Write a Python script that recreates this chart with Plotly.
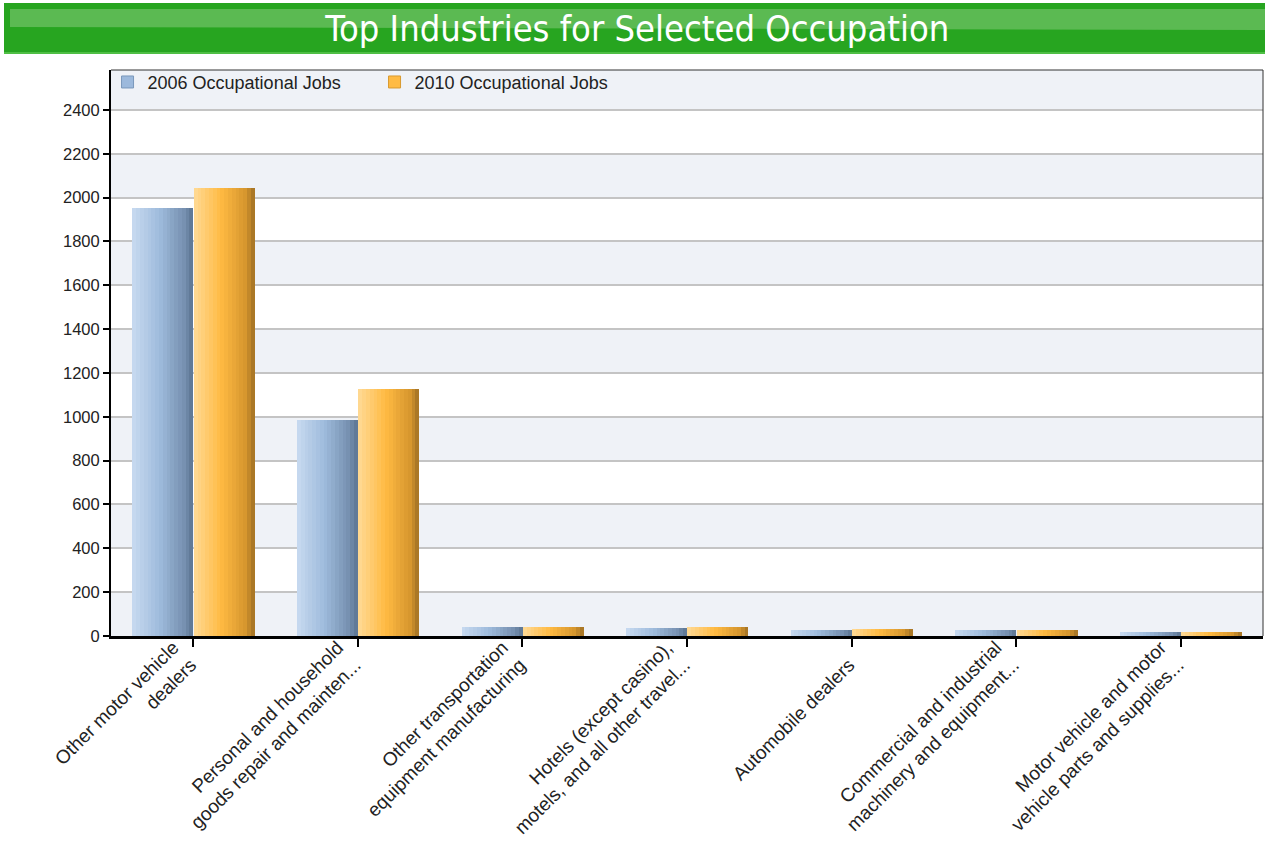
import plotly.graph_objects as go

categories = [
    "Other motor vehicle<br>dealers",
    "Personal and household<br>goods repair and mainten...",
    "Other transportation<br>equipment manufacturing",
    "Hotels (except casino),<br>motels, and all other travel...",
    "Automobile dealers",
    "Commercial and industrial<br>machinery and equipment...",
    "Motor vehicle and motor<br>vehicle parts and supplies...",
]
jobs_2006 = [1953, 985, 41, 36, 28, 27, 20]
jobs_2010 = [2044, 1127, 41, 40, 32, 27, 18]
series_names = ["2006 Occupational Jobs", "2010 Occupational Jobs"]
y_ticks = list(range(0, 2401, 200))
Y_MAX = 2582

xs = list(range(len(categories)))
# anchor every label by its last line: pad single-line labels with a blank first line
tick_text = [c if "<br>" in c else "\u00a0<br>" + c for c in categories]

fig = go.Figure()

def lerp(c1, c2, t):
    return "rgb(%d,%d,%d)" % tuple(round(a + (b - a) * t) for a, b in zip(c1, c2))

def grad(stops, t):
    for (p1, c1), (p2, c2) in zip(stops, stops[1:]):
        if p1 <= t <= p2:
            return lerp(c1, c2, (t - p1) / (p2 - p1))
    return lerp(stops[-1][1], stops[-1][1], 0)

blue_stops = [(0, (200, 218, 240)), (0.45, (158, 187, 220)), (0.85, (118, 144, 176)), (1.0, (92, 116, 146))]
orange_stops = [(0, (255, 218, 150)), (0.45, (255, 186, 66)), (0.85, (214, 150, 46)), (1.0, (160, 112, 36))]

bar_w = 0.37
n_slices = 16
for s, (vals, stops) in enumerate([(jobs_2006, blue_stops), (jobs_2010, orange_stops)]):
    base_off = -bar_w if s == 0 else 0.003
    sw = bar_w / n_slices
    for i in range(n_slices):
        t = (i + 0.5) / n_slices
        fig.add_trace(go.Bar(
            x=xs, y=vals, width=sw * 1.02, offset=base_off + i * sw,
            marker=dict(color=grad(stops, t), line=dict(width=0)),
            showlegend=False, hoverinfo="skip",
        ))

# legend entries
for name, col, lc in [(series_names[0], "#9cb9dc", "#7a98bb"), (series_names[1], "#ffbb44", "#d89a30")]:
    fig.add_trace(go.Bar(x=[None], y=[None], name=name,
                         marker=dict(color=col, line=dict(color=lc, width=1))))

PT, PB, PL, PW = 70, 636, 111, 1152
PH = PB - PT
def py(p):
    return (PB - p) / PH
def px(p):
    return (p - PL) / PW

shapes = []
for i, v in enumerate(y_ticks):
    if i % 2 == 0:
        shapes.append(dict(type="rect", xref="paper", yref="y", x0=0, x1=1, y0=v, y1=min(v + 200, Y_MAX),
                           fillcolor="#eff2f7", line=dict(width=0), layer="below"))
# title banner
shapes.append(dict(type="rect", xref="paper", yref="paper", x0=px(4), x1=px(1265), y0=py(53), y1=py(3),
                   fillcolor="#27a520", line=dict(width=0), layer="below"))
shapes.append(dict(type="rect", xref="paper", yref="paper", x0=px(4), x1=px(1265), y0=py(54), y1=py(52),
                   fillcolor="#4fbf45", line=dict(width=0), layer="below"))
shapes.append(dict(type="path", xref="paper", yref="paper",
                   path="M %f %f L %f %f L %f %f L %f %f Z" % (px(10), py(9), px(1265), py(9), px(1265), py(30), px(10), py(27)),
                   fillcolor="#5bba52", line=dict(width=0), layer="below"))
# plot frame top/right
shapes.append(dict(type="line", xref="paper", yref="paper", x0=0, x1=1, y0=1, y1=1,
                   line=dict(color="#333333", width=1)))
shapes.append(dict(type="line", xref="paper", yref="paper", x0=1, x1=1, y0=0, y1=1,
                   line=dict(color="#333333", width=1)))

fig.update_layout(
    width=1267, height=844, autosize=False,
    margin=dict(l=PL, r=1267 - PL - PW, t=PT, b=844 - PB),
    paper_bgcolor="white", plot_bgcolor="white",
    barmode="overlay",
    bargap=0,
    shapes=shapes,
    font=dict(family="Liberation Sans, Arial, sans-serif", color="#222222"),
    title=dict(text="Top Industries for Selected Occupation", x=0.503, xanchor="center",
               xref="container", yref="container",
               y=1 - 28 / 844, yanchor="middle",
               font=dict(size=36, color="white",
                         family="Liberation Sans Narrow, DejaVu Sans Condensed, Liberation Sans")),
    legend=dict(orientation="h", x=-0.003, y=1.011, xanchor="left", yanchor="top",
                bgcolor="rgba(0,0,0,0)", font=dict(size=18, color="#222222"),
                itemwidth=30, tracegroupgap=0, entrywidth=222),
    xaxis=dict(
        range=[-0.5, len(categories) - 0.5],
        tickmode="array", tickvals=xs, ticktext=tick_text,
        tickangle=-45, ticks="outside", ticklen=8, tickwidth=2, tickcolor="black",
        tickfont=dict(size=19, color="#222222"),
        ticklabelshift=-20, ticklabelstandoff=-18,
        showline=True, linecolor="black", linewidth=3,
        showgrid=False, zeroline=False, fixedrange=True, automargin=False,
    ),
    yaxis=dict(
        range=[0, Y_MAX],
        tickmode="array", tickvals=y_ticks,
        ticks="outside", ticklen=6, tickwidth=1.5, tickcolor="black",
        tickfont=dict(size=16.5, color="#222222"),
        showline=True, linecolor="black", linewidth=2,
        showgrid=True, gridcolor="#c4c4c4", gridwidth=1.5,
        zeroline=False, fixedrange=True, automargin=False,
    ),
)

fig.write_html("out.html", config={"responsive": False, "displayModeBar": False},
               post_script="document.body.style.margin='0';document.body.style.overflow='hidden';")
